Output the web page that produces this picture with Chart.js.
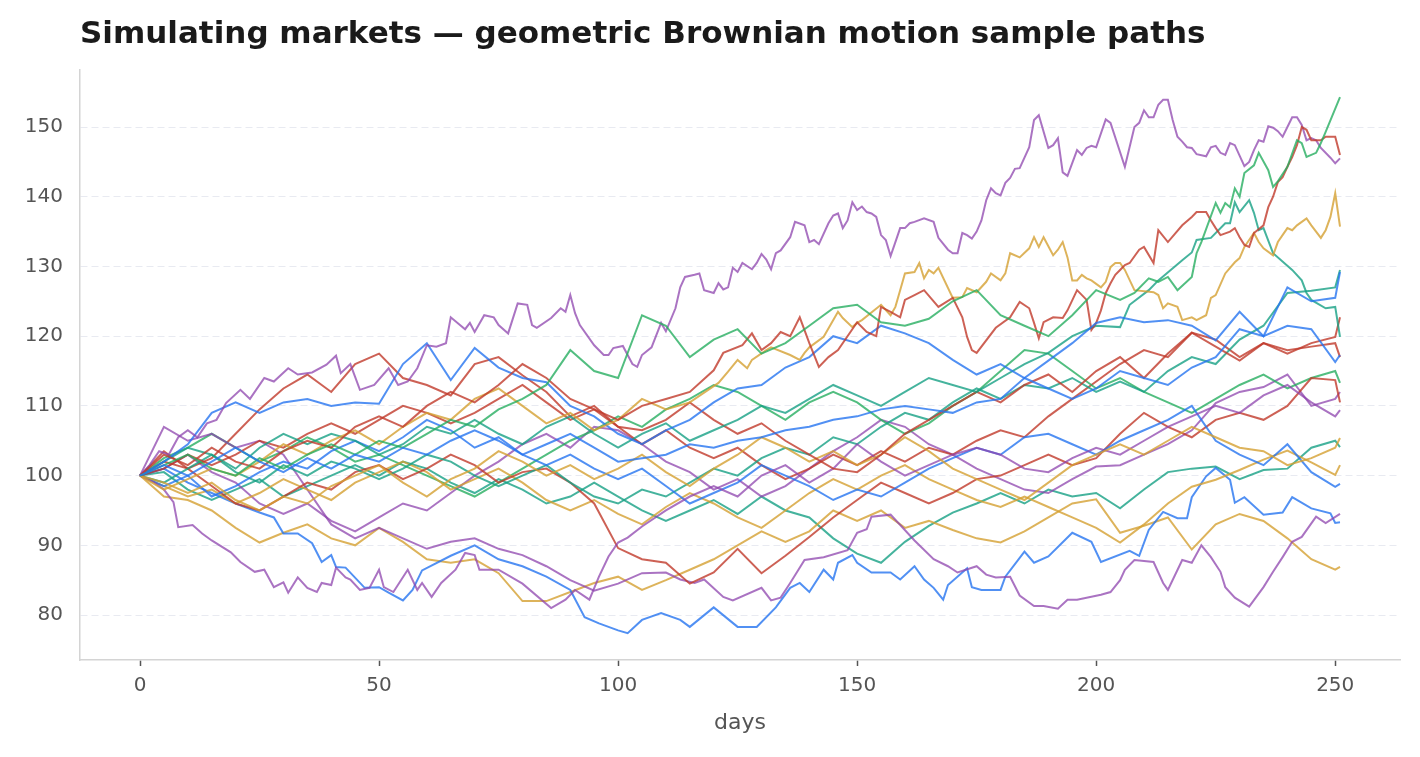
<!DOCTYPE html>
<html>
<head>
<meta charset="utf-8">
<script src="https://cdn.jsdelivr.net/npm/chart.js@4.4.0/dist/chart.umd.min.js"></script>
<style>
  html, body { margin: 0; padding: 0; background: #fff; }
</style>
</head>
<body>
<canvas id="chart" width="1420" height="757"></canvas>
<script>
const titleText = 'Simulating markets \u2014 geometric Brownian motion sample paths';

// common sample days (every 5 trading days + last day)
const days = [0,5,10,15,20,25,30,35,40,45,50,55,60,65,70,75,80,85,90,95,100,105,110,115,120,125,
  130,135,140,145,150,155,160,165,170,175,180,185,190,195,200,205,210,215,220,225,230,235,240,245,250,251];

const xTicks = [0, 50, 100, 150, 200, 250];
const yTicks = [80, 90, 100, 110, 120, 130, 140, 150];

// price paths (on the common days unless a path has its own days list)
const blue1 = [100,101.5,100,102,104,102,100.5,102.5,101,103,102,104,103,105,106.5,105,103,104.5,106,104,102,102.5,103,104.5,104,105,105.5,106.5,107,108,108.5,109.5,110,109.5,109,110.5,111,114,116.5,119,121.9,122.7,122,122.3,121.5,119.4,123.5,120,127,125,125.5,129.2];
const blue2 = [100,102,104.5,109,110.5,109,110.5,111,110,110.5,110.3,116,119,113.7,118.3,115.5,114,113.4,110,108.5,106,104.5,106.5,108,110.5,112.5,113,115.5,117,120,119,121.5,120.4,119,116.6,114.5,116,114,112.5,111,112.5,115,114,113,115.5,117,121,120,121.5,121,116.3,117.3];
const blue3 = [100,98.5,100,97,98.5,100.5,102,101,103.5,105,103.5,105.5,108,106.5,104,105.5,103,101.5,103,101,99.5,101,98.5,96,97.5,99,101.5,100,98.5,96.5,98,97,99,101,102.5,104,103,105.5,106,104.5,103,105,106.5,108,110,105,103,101.5,104.5,100.5,98.4,98.8];
const blue4Days = [0,5,10,15,20,25,28,30,33,36,38,40,41,43,47,50,52,55,57,59,65,70,75,80,85,90,93,96,100,102,105,109,113,115,120,125,129,133,136,138,140,143,145,146,149,150,153,157,159,162,164,166,168,169,173,174,176,180,181,185,187,190,195,199,201,207,209,211,214,217,219,220,223,225,228,229,231,235,239,241,245,249,250,251];
const blue4 = [100,101,99,97.5,96,94.7,94,91.7,91.7,90.3,87.6,88.6,86.9,86.8,83.9,84,83.2,82.1,83.6,86.4,88.5,90,88,87,85.5,83.6,79.7,78.8,77.8,77.4,79.3,80.3,79.3,78.3,81.1,78.3,78.3,81.1,83.9,84.6,83.3,86.5,85.1,87.5,88.6,87.5,86.1,86.1,85.1,87,85.1,83.9,82.2,84.3,86.7,84,83.6,83.6,85.5,89.1,87.5,88.4,91.8,90.5,87.6,89.2,88.5,92.2,94.8,93.9,93.9,96.9,99.9,101.1,99.4,96.1,96.9,94.4,94.7,96.9,95.3,94.6,93.2,93.3];

const green1Late = [205,208,211,213,215,217,220,221,222,225,226,227,228,229,230,231,233,234,236,237,238,240,242,243,244,246,247,248,251];
const green1 = [100,101.5,103,101,100,102.5,101,103,104.5,103,105,104,106,108,107,109.5,111,113,118,115,114,123,121.5,117,119.5,121,117.5,119,121.5,124,124.5,122,121.5,122.5,125,126.6,123,121.5,120,123,126.6,
  125.2,126.2,128.3,127.8,128.5,126.6,128.5,131.9,133.5,139.1,137.7,139.1,138.5,141.2,140,143.4,144.5,146.3,143.8,141.4,142.2,144.3,148.1,147.7,145.7,146.3,147.7,149.3,154.3];
const green2 = [100,102.5,104,106,104,102,103.5,105.5,104,102,103,101.5,100,98.5,97,99,101,103,105,106.5,108.5,107,109.5,111,113,112,110,108,110.5,112,110.5,108,106,107.5,110,112,115,118,117.5,115,112.5,114,112,110.5,109,111,113,114.5,112.5,114,115,113.3];
const teal1Late = [205,207,211,213,218,220,221,224,227,228,229,230,232,233,234,235,237,241,243,244,245,248,250,251];
const teal1 = [100,102,104,103,101,104,106,104.5,106,105,103,104.5,107,106,108,106,104.5,107,108.5,106,104,106,107.5,105,106.5,108,110,109,111,113,111.5,110,112,114,113,112,114,116,117.6,120,121.5,
  121.3,124.5,126.6,128,130.9,132,133.8,134.1,136.2,136.2,139.2,137.8,139.5,137.7,135.2,135.5,131.9,129.5,128,126.2,125.2,124,124.2,119.9];
const teal2 = [100,99,101,103,100.5,99,101.5,100,102,101,99.5,101,103,102,100,98.5,100,101.5,99,97,96,98,97,99,101,100,102.5,104,103,105.5,104.5,107,109,108,110.5,112.5,111,113,112.5,114,112,113.5,112,115,117,116,119.5,121.5,126.2,126.5,127,129.5];
const teal3 = [100,100.5,98,96.5,98,99.5,97,98.5,100,101.5,100,102,101,99,97.5,99.5,98,96,97,99,97,95,93.5,95,96.5,94.5,97,95,94,91,88.8,87.5,90.5,92.8,94.7,96,97.5,96,98,97,97.5,95.3,98,100.5,101,101.3,99.5,100.8,101,104,105,104.1];

const red1Days = [0,5,10,15,20,25,30,35,40,45,50,55,60,65,70,75,80,85,90,95,100,105,110,115,120,122,126,128,130,132,134,136,138,140,142,144,146,150,152,154,155,157,159,160,162,164,167,170,172,173,174,175,179,182,184,186,187,188,189,191,193,194,196,198,199,200,201,202,203,204,205,206,207,209,210,212,213,215,218,220,221,223,224,225,226,228,229,230,231,232,233,235,236,237,238,239,240,241,242,243,244,245,247,248,250,251];
const red1 = [100,103,101.5,104,102,101,103.5,105,104,107,108.5,107,110,112,110.5,113,116,114,111,109.5,108,110,111,112,115.1,117.6,118.7,120.4,118,119,120.6,120,122.7,119,115.6,117,118,122,120.6,120,124.2,123.5,122.7,125.2,125.9,126.6,124.2,125.5,122.7,119.9,118,117.6,121.2,122.7,124.9,124,121.9,119.7,122,122.7,122.6,123.7,126.6,125.2,120.9,121.9,123.7,126.2,127.6,128.8,129.5,130.2,130.5,132.4,132.8,130.5,135.2,133.5,135.9,137.1,137.8,137.8,136.6,135.5,134.5,135,135.5,134.2,133.1,132.8,134.8,135.9,138.5,140,142.1,142.8,144.3,145.7,147.4,150,149.6,148.1,148.1,148.6,148.6,146];
const red2 = [100,101,103,101.5,103,105,104,106,107.5,106,108,110,109,107.5,109,111,113,110.5,108,109.5,107,106.5,108,110.5,108,106,107.5,105,103,101,100.5,103,106,108,110,112,110.5,113,114.5,112,115,117,114,117.5,120.5,118.5,116.5,119,117.5,119,119.9,122.7];
const red3 = [100,102,101,98.5,96,95,97,99,98,100.5,101.5,99.5,101,103,101.5,99,100.5,101,99,96,89.6,88,87.5,84.5,86.1,89.5,86,88.5,91.2,94,96.5,99,97.5,96,97.5,99.5,100,101.5,103,101.5,102.5,106,109,107,105.5,108,109,108,110,114,113.7,110.5];
const red4 = [100,103.5,101,102.5,106,109.5,112.5,114.5,112,116,117.5,114,113,111.5,116,117,114.4,112,108.5,110,107,104.5,106.5,104,102.5,104,101.5,99.5,101,103,101.5,103.5,102,104,103,105,106.5,105.5,108.5,111,113.5,116,118,117,120.5,119.5,117,119,118,118.5,119,117];

const gold1Days = [0,5,10,15,20,25,30,35,40,45,50,55,60,65,70,75,80,85,90,95,100,105,110,115,121,123,125,127,128,131,132,136,138,139,140,143,146,147,149,150,151,155,157,158,159,160,162,163,164,165,166,167,170,172,173,175,177,178,180,181,182,184,186,187,188,189,191,192,193,194,195,196,197,198,199,201,202,203,204,205,206,208,212,213,214,215,217,218,220,221,223,224,225,227,229,230,231,233,234,235,237,238,240,241,242,244,245,247,248,249,250,251];
const gold1 = [100,98,99.5,101,100,102,104.5,103,105,106.5,104.5,107,109,108,111,112.5,110,107.5,109,106.5,108,111,109.5,110.5,113.3,114.9,116.6,115.4,116.6,118,118.4,117.3,116.6,117.6,118.4,119.9,123.5,122.6,121.3,121.9,122.3,124.5,123,124.2,126.6,129,129.2,130.5,128.3,129.5,129,129.8,125.5,125.6,126.9,126.3,127.8,129,128,129,131.9,131.3,132.6,134.2,132.8,134.2,131.6,132.4,133.5,131.3,128,128,128.8,128.3,128,127,127.8,129.9,130.5,130.5,129.5,126.6,126.3,125.9,124,124.7,124.2,122.3,122.7,122.3,123,125.5,125.9,129,130.6,131.2,132.8,134.8,133.5,132.6,131.6,133.5,135.5,135.2,135.9,136.9,135.9,134.1,135.2,137.1,140.5,135.7];
const gold2 = [100,99,97.5,99,96.5,95,97,96,98.5,100,101.5,99,97,99.5,101,103.5,102,100,101.5,99.5,101,103,100.5,98.5,101,103,105.5,104,102,103.5,101.5,103,105.5,103.5,101,99.5,98,96.5,99,101.5,103,104.5,103,105,107,105.5,104,103.5,101.5,102.5,104,105.4];
const gold3 = [100,98.5,97,98,96,97.5,99.5,98,96.5,99,100.5,102,100.5,98,99.5,101,99,96.5,95,96.5,94.5,93,95.5,97.5,96,94,92.5,95,97.5,99.5,98,100,101.5,99.5,98,96.5,95.5,97,95.5,94,92.5,90.4,93,96,98.4,99.4,100.8,102.3,103.6,101.9,100.1,101.5];
const gold4 = [100,97,96.5,95,92.5,90.4,91.8,93,91,90,92.5,90.5,88,87.5,88,86,82,82,83.3,84.6,85.5,83.6,85,86.5,88,90,92,90.5,92,95,93.5,95,92.5,93.5,92.2,91,90.4,92,94,96,96.6,91.8,92.8,94,89.4,93,94.5,93.5,91,88,86.5,86.9];

const purple1Days = [0,2,4,6,8,10,12,14,16,18,21,23,26,28,31,33,36,39,41,42,44,46,49,52,54,56,58,60,62,64,65,68,69,70,72,74,75,77,79,81,82,83,86,88,89,90,91,92,95,97,98,99,101,103,104,105,107,109,110,112,113,114,116,117,118,120,121,122,123,124,125,126,128,129,130,131,132,133,134,136,137,139,140,141,142,144,145,146,147,148,149,150,151,152,153,154,155,156,157,158,159,160,161,162,164,166,167,169,170,171,172,173,174,175,176,177,178,179,180,181,182,183,184,186,187,188,190,191,192,193,194,196,197,198,199,200,202,203,206,208,209,210,211,212,213,214,215,216,217,218,219,220,221,223,224,225,226,227,228,229,231,232,233,234,235,236,237,238,239,240,241,242,243,244,245,246,247,249,250,251];
const purple1 = [100,101.5,103.5,103,105.5,106.5,105.5,107.5,108,110.4,112.3,111,114,113.5,115.4,114.5,114.8,115.9,117.2,114.7,116,112.3,113,115.4,113,113.5,115.4,118.7,118.5,119,122.7,121,121.9,120.6,123,122.7,121.6,120.4,124.7,124.5,121.6,121.2,122.6,124,123.5,125.9,123.3,121.6,118.7,117.3,117.3,118.3,118.6,116,115.6,117.3,118.4,121.9,120.7,124,127,128.5,128.8,129,126.6,126.2,127.6,126.7,127,129.8,129.2,130.5,129.6,130.5,131.8,131,129.6,131.9,132.3,134.2,136.4,135.9,133.5,133.8,133.2,136.2,137.3,137.6,135.5,136.6,139.2,138.1,138.6,137.8,137.6,137.1,134.5,133.8,131.5,133.5,135.5,135.5,136.2,136.4,136.9,136.4,134.1,132.4,131.9,131.9,134.8,134.5,134,135,136.6,139.5,141.2,140.5,140.2,142,142.7,144,144.1,147.1,151,151.7,147,147.4,148.4,143.5,143,146.7,146,147,147.3,147.1,151.1,150.6,144.3,150,150.6,152.4,151.4,151.4,153.2,153.9,153.9,151,148.6,147.9,147.1,147,146.1,145.8,147.1,147.3,146.3,146,147.7,147.4,144.4,145,146.7,148.1,147.9,150.1,149.9,149.4,148.6,150,151.4,151.4,150.3,148.1,148.4,148.1,147,145.6,144.8,145.5];
const purple2Days = [0,3,5,7,8,11,13,15,19,21,24,26,28,30,31,33,35,37,38,40,41,43,44,46,48,50,51,53,56,58,59,61,63,66,68,70,71,75,80,86,89,91,94,96,98,100,102,105,110,115,120,125,130,135,140,145,150,155,160,165,170,175,180,185,190,195,200,205,210,215,220,225,230,235,240,245,250,251];
const purple2 = [100,99,98,96.2,92.6,92.9,91.7,90.7,89,87.6,86.2,86.5,84,84.7,83.2,85.4,83.9,83.3,84.6,84.3,86.8,85.4,85.1,83.6,83.9,86.5,84,83.3,86.5,83.6,84.6,82.6,84.6,86.5,88.9,88.6,86.5,86.5,84.5,81,82.2,83.6,82.2,85.5,88.4,90.4,91.1,92.7,95,97,98.5,97,100,101.5,99,101,104.5,102,100,101.5,103,104,103,101,100.5,102.5,104,103,105,107,108.5,110,109,111.5,113,110.5,108.5,109.4];
const purple3Days = [0,5,10,15,20,25,30,35,40,45,50,55,60,65,70,75,80,85,90,95,100,105,110,113,116,118,122,124,130,132,134,136,139,143,148,150,152,153,157,162,166,169,171,175,177,179,182,184,187,189,192,194,196,201,203,205,206,208,212,214,215,218,220,222,224,226,227,229,232,235,237,239,241,243,246,248,251];
const purple3 = [100,107,105,106,104,105,103,98,93,91,92.5,91,89.5,90.5,91,89.5,88.6,87,85,83.5,84.5,86,86.1,85.1,84.6,85.1,82.6,82.1,83.9,82.1,82.5,84.6,87.9,88.3,89.3,91.8,92.3,94.1,94.4,90.7,88,87,86.1,87,85.8,85.4,85.5,82.8,81.3,81.3,80.9,82.2,82.2,82.9,83.3,85,86.5,87.9,87.6,84.6,83.6,87.9,87.5,90,88.3,86.2,84,82.5,81.2,84,86.2,88.3,90.5,91.2,94.1,93.2,94.5];
const purple4 = [100,101,103,100.5,99,96,94.5,96,93.5,92,94,96,95,97.5,100,102,104.5,106,104,107,106.5,104.5,102,100.5,98,99.5,97,98.5,101,103.5,105.5,108,107,104.5,103,101,99.5,98,97.5,99.5,101.3,101.5,103,104.5,106.5,110.4,112,112.7,114.5,110,111,112];

const BLUE = 'rgba(37,116,240,0.8)';
const GREEN = 'rgba(39,174,96,0.8)';
const TEAL = 'rgba(22,160,133,0.8)';
const RED = 'rgba(192,57,43,0.8)';
const GOLD = 'rgba(212,160,50,0.8)';
const PURPLE = 'rgba(142,68,173,0.75)';

const gridTo200 = days.slice(0, 41);

const paths = [
  [blue1, BLUE, days], [green1, GREEN, gridTo200.concat(green1Late)], [red1, RED, red1Days],
  [gold1, GOLD, gold1Days], [purple1, PURPLE, purple1Days],
  [blue2, BLUE, days], [teal1, TEAL, gridTo200.concat(teal1Late)], [red2, RED, days],
  [gold2, GOLD, days], [purple2, PURPLE, purple2Days],
  [blue3, BLUE, days], [teal2, TEAL, days], [red3, RED, days], [gold3, GOLD, days],
  [purple3, PURPLE, purple3Days],
  [blue4, BLUE, blue4Days], [green2, GREEN, days], [red4, RED, days], [gold4, GOLD, days],
  [purple4, PURPLE, days], [teal3, TEAL, days]
];

const datasets = paths.map(([vals, color, xs]) => ({
  data: vals.map((v, i) => ({ x: xs[i], y: v })),
  borderColor: color,
  borderWidth: 2,
  pointRadius: 0,
  tension: 0,
  fill: false
}));

const titlePlugin = {
  id: 'pageTitle',
  afterDraw(chart) {
    const c = chart.ctx;
    c.save();
    c.font = 'bold 31px "DejaVu Sans"';
    c.fillStyle = '#1a1a1a';
    c.textBaseline = 'alphabetic';
    c.fillText(titleText, chart.chartArea.left, 43);
    c.restore();
  }
};

const ctx = document.getElementById('chart').getContext('2d');
new Chart(ctx, {
  type: 'line',
  data: { datasets },
  options: {
    responsive: false,
    animation: false,
    layout: { padding: { left: 0, right: 20, top: 70, bottom: 17 } },
    plugins: {
      legend: { display: false },
      tooltip: { enabled: false },
      title: { display: false }
    },
    scales: {
      x: {
        type: 'linear',
        min: -12.55,
        max: 263.55,
        afterBuildTicks: (axis) => { axis.ticks = xTicks.map(v => ({ value: v })); },
        afterFit: (axis) => { axis.height = 80; },
        grid: { drawOnChartArea: false, drawTicks: true, tickLength: 6, tickColor: '#555', tickWidth: 1.5 },
        border: { display: true, color: '#d4d4d4', width: 1.5 },
        ticks: { color: '#555', font: { family: 'DejaVu Sans', size: 20 }, padding: 8, maxRotation: 0 },
        title: { display: true, text: 'days', color: '#555', font: { family: 'DejaVu Sans', size: 22 }, padding: { top: 0, bottom: 4 } }
      },
      y: {
        min: 73.55,
        max: 158.18,
        afterBuildTicks: (axis) => { axis.ticks = yTicks.map(v => ({ value: v })); },
        afterFit: (axis) => { axis.width = 80; },
        grid: { color: '#e8eaf1', lineWidth: 1, drawTicks: false },
        border: { display: true, color: '#d4d4d4', width: 1.5, dash: [7, 4] },
        ticks: { color: '#555', font: { family: 'DejaVu Sans', size: 20 }, padding: 17 }
      }
    }
  },
  plugins: [titlePlugin]
});
</script>
</body>
</html>
